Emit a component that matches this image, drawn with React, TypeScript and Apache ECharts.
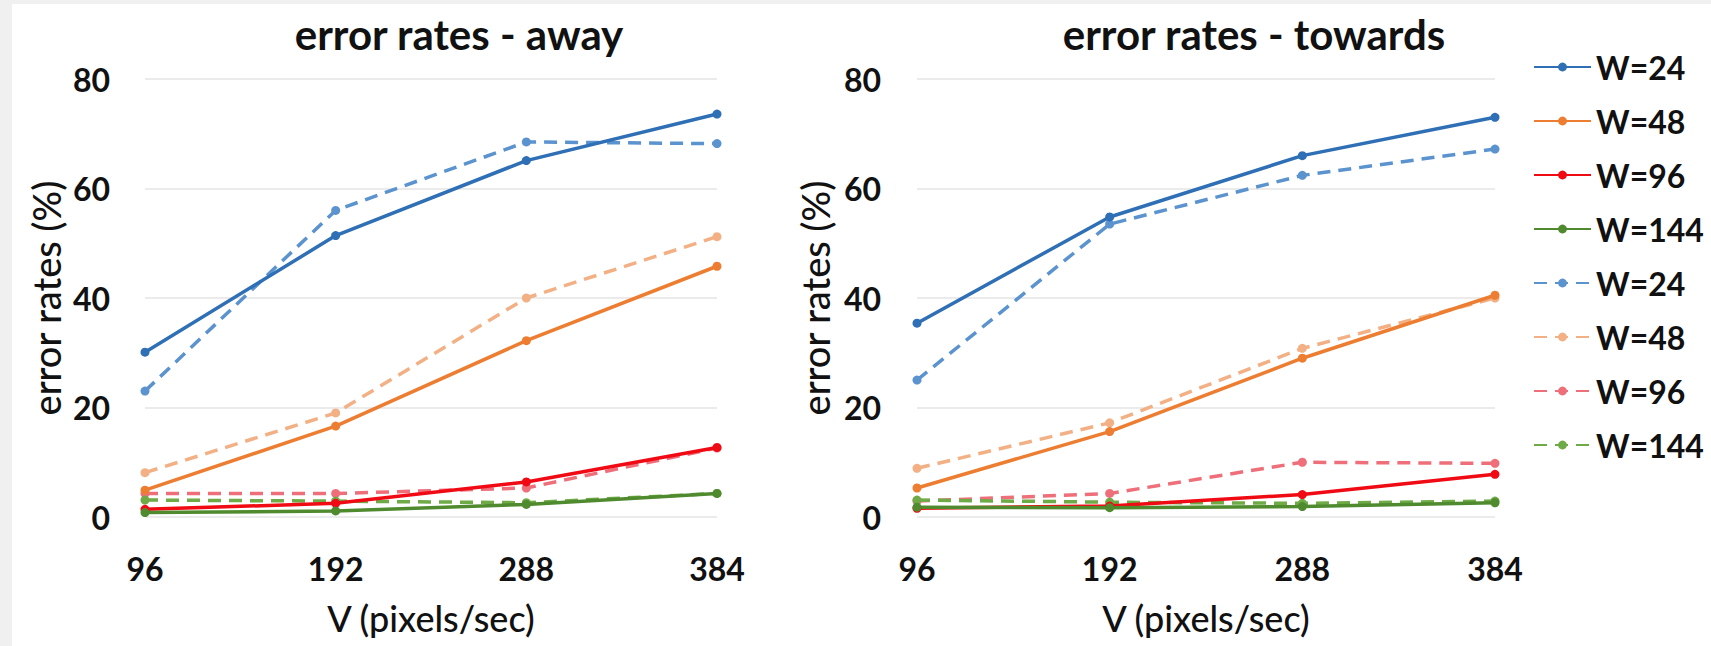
import React, { useEffect, useRef } from "react";
import * as echarts from "echarts";

const speeds = ["96", "192", "288", "384"];
const widths = ["W=24", "W=48", "W=96", "W=144"];

// away chart
const awaySolid24 = [30.1, 51.4, 65.1, 73.6];
const awaySolid48 = [4.9, 16.6, 32.2, 45.8];
const awaySolid96 = [1.4, 2.5, 6.4, 12.7];
const awaySolid144 = [0.8, 1.1, 2.3, 4.3];
const awayDashed24 = [23.0, 56.0, 68.5, 68.2];
const awayDashed48 = [8.1, 19.0, 40.0, 51.2];
const awayDashed96 = [4.3, 4.3, 5.3, 12.6];
const awayDashed144 = [3.1, 2.9, 2.6, 4.3];

// towards chart
const towSolid24 = [35.4, 54.8, 66.0, 73.0];
const towSolid48 = [5.3, 15.6, 29.0, 40.5];
const towSolid96 = [1.6, 2.0, 4.1, 7.8];
const towSolid144 = [1.8, 1.7, 1.9, 2.6];
const towDashed24 = [25.0, 53.5, 62.4, 67.2];
const towDashed48 = [8.9, 17.2, 30.8, 40.0];
const towDashed96 = [2.9, 4.3, 10.0, 9.8];
const towDashed144 = [3.1, 2.7, 2.5, 2.9];

const solidColors = ["#2E6FB5", "#ED7D31", "#F00A14", "#4F8A2E"];
const dashedColors = ["#5B93CF", "#F2B084", "#EE6F7A", "#6EAA46"];

const yTicks = { min: 0, max: 80, interval: 20 };

const FONT = "Lato, 'Open Sans', sans-serif";

export default function App() {
  const ref = useRef<HTMLDivElement>(null);

  useEffect(() => {
    if (!ref.current) return;
    const chart = echarts.init(ref.current, undefined, { renderer: "svg" });

    const awaySolid = [awaySolid24, awaySolid48, awaySolid96, awaySolid144];
    const awayDashed = [awayDashed24, awayDashed48, awayDashed96, awayDashed144];
    const towSolid = [towSolid24, towSolid48, towSolid96, towSolid144];
    const towDashed = [towDashed24, towDashed48, towDashed96, towDashed144];

    const series: any[] = [];
    const mk = (name: string, data: number[], color: string, dashed: boolean, gi: number) => ({
      type: "line",
      name,
      data,
      xAxisIndex: gi,
      yAxisIndex: gi,
      symbol: "circle",
      symbolSize: 9,
      showSymbol: true,
      itemStyle: { color },
      lineStyle: { color, width: 3.5, type: dashed ? [13, 8] : "solid" },
      z: dashed ? 3 : 4,
    });
    [awaySolid, towSolid].forEach((set, gi) =>
      set.forEach((d, i) => series.push(mk(widths[i], d, solidColors[i], false, gi)))
    );
    [awayDashed, towDashed].forEach((set, gi) =>
      set.forEach((d, i) => series.push(mk(widths[i] + " ", d, dashedColors[i], true, gi)))
    );

    const grids = [
      { left: 133, top: 75, width: 572, height: 438 },
      { left: 905, top: 75, width: 578, height: 438 },
    ];

    const xAxes = grids.map((_, gi) => ({
      type: "category",
      gridIndex: gi,
      data: speeds,
      boundaryGap: false,
      axisLine: { show: false },
      axisTick: { show: false },
      axisLabel: {
        margin: 35,
        fontFamily: FONT,
        fontSize: 32,
        lineHeight: 32,
        fontWeight: "bold",
        color: "#111",
      },
      name: "V (pixels/sec)",
      nameLocation: "middle",
      nameGap: 83,
      nameTextStyle: { fontFamily: FONT, fontSize: 36, color: "#111", fontWeight: 500 },
    }));

    const yAxes = grids.map((_, gi) => ({
      type: "value",
      gridIndex: gi,
      min: yTicks.min,
      max: yTicks.max,
      interval: yTicks.interval,
      axisLine: { show: false },
      axisTick: { show: false },
      splitLine: { show: true, lineStyle: { color: "#e4e4e4", width: 1.5 } },
      axisLabel: {
        margin: gi === 0 ? 35 : 36,
        fontFamily: FONT,
        fontSize: 32,
        fontWeight: "bold",
        color: "#111",
      },
      name: "error rates (%)",
      nameLocation: "middle",
      nameGap: gi === 0 ? 80 : 83,
      nameTextStyle: { fontFamily: FONT, fontSize: 38, color: "#111", fontWeight: 500 },
    }));

    const legendNames = [...widths, ...widths.map((w) => w + " ")];

    chart.setOption({
      animation: false,
      backgroundColor: "#ffffff",
      grid: grids,
      xAxis: xAxes,
      yAxis: yAxes,
      series,
      legend: {
        data: legendNames,
        orient: "vertical",
        left: 1516,
        top: 41,
        itemWidth: 57,
        itemHeight: 11,
        itemGap: 20,
        formatter: (n: string) => n.trim(),
        textStyle: {
          fontFamily: FONT,
          fontSize: 32,
          lineHeight: 34,
          fontWeight: "bold",
          color: "#111",
        },
      },
      graphic: [
        {
          type: "text",
          x: 447,
          y: 30,
          style: {
            text: "error rates - away",
            textAlign: "center",
            textVerticalAlign: "middle",
            font: `bold 42px ${FONT}`,
            fill: "#111",
          },
        },
        {
          type: "text",
          x: 1242,
          y: 30,
          style: {
            text: "error rates - towards",
            textAlign: "center",
            textVerticalAlign: "middle",
            font: `bold 42px ${FONT}`,
            fill: "#111",
          },
        },
      ],
    });

    return () => chart.dispose();
  }, []);

  return (
    <div
      style={{
        position: "fixed",
        left: 0,
        top: 0,
        width: 1711,
        height: 646,
        background: "#f0f0f0",
        overflow: "hidden",
      }}
    >
      <div
        ref={ref}
        style={{
          position: "absolute",
          left: 12,
          top: 4,
          width: 1699,
          height: 642,
          background: "#ffffff",
        }}
      />
    </div>
  );
}
